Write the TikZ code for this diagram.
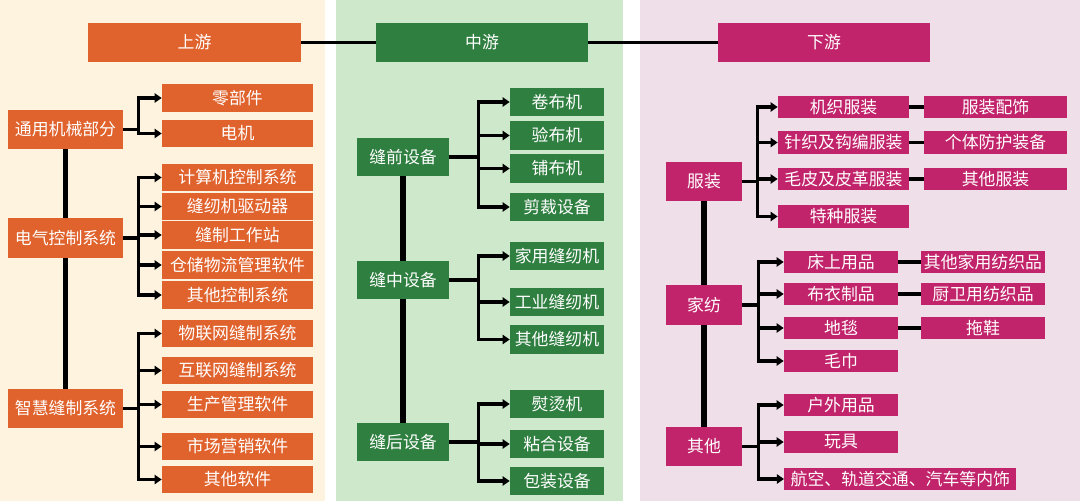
\documentclass[tikz,border=0pt]{standalone}
\usepackage{fontspec}
\setmainfont{Noto Sans CJK SC}
\usetikzlibrary{arrows.meta}

\begin{document}
\begin{tikzpicture}[
  x=0.025cm, y=-0.025cm,
  >={Triangle[length=5pt,width=6.5pt]},
  box/.style={fill=#1,text=white,inner sep=0pt,font=\fontsize{12}{14}\selectfont},
  hdr/.style={box=#1,minimum width=5.3cm,minimum height=0.975cm},
  lpar/.style={box=upc,minimum width=2.875cm,minimum height=0.975cm},
  lkid/.style={box=upc,minimum width=3.775cm,minimum height=0.675cm},
  mpar/.style={box=midc,minimum width=2.3cm,minimum height=0.95cm},
  mkid/.style={box=midc,minimum width=2.35cm,minimum height=0.7cm},
  rpar/.style={box=downc,minimum width=1.9cm,minimum height=0.975cm},
  rkid/.style={box=downc,minimum width=#1,minimum height=0.56cm},
  trunk/.style={line width=4pt},
  brk/.style={->,line width=2.2pt},
  tie/.style={line width=2.2pt}]

  \definecolor{upc}{RGB}{224,98,44}
  \definecolor{midc}{RGB}{47,127,64}
  \definecolor{downc}{RGB}{193,36,107}
  \definecolor{upbg}{RGB}{253,243,222}
  \definecolor{midbg}{RGB}{205,232,203}
  \definecolor{downbg}{RGB}{238,223,233}

  \useasboundingbox (0,0) rectangle (1080,504);

  % ================= panels =================
  \fill[upbg] (0,0) rectangle (325,501);
  \fill[midbg] (336,0) rectangle (623,501);
  \fill[downbg] (640,0) rectangle (1080,501);

  % ================= headers =================
  \node[hdr=upc] (up) at (194.5,42.5) {上游};
  \node[hdr=midc] (mid) at (482,42.5) {中游};
  \node[hdr=downc] (down) at (824,42.5) {下游};
  \draw[tie] (up.east) -- (mid.west);
  \draw[tie] (mid.east) -- (down.west);

  % ================= upstream (left) =================
  \node[lpar] (tyjx) at (65.5,129.5) {通用机械部分};
  \node[lpar] (dqkz) at (65.5,238) {电气控制系统};
  \node[lpar] (zhfz) at (65.5,408.5) {智慧缝制系统};

  \node[lkid] (ljbj) at (237.5,98) {零部件};
  \node[lkid] (dj) at (237.5,133.5) {电机};
  \node[lkid] (jsj) at (237.5,177.5) {计算机控制系统};
  \node[lkid] (qdq) at (237.5,206.5) {缝纫机驱动器};
  \node[lkid] (gzz) at (237.5,235) {缝制工作站};
  \node[lkid] (ccwl) at (237.5,265) {仓储物流管理软件};
  \node[lkid] (qtkz) at (237.5,295) {其他控制系统};
  \node[lkid] (wlw) at (237.5,333.5) {物联网缝制系统};
  \node[lkid] (hlw) at (237.5,370.5) {互联网缝制系统};
  \node[lkid] (scgl) at (237.5,404.5) {生产管理软件};
  \node[lkid] (scyx) at (237.5,446.5) {市场营销软件};
  \node[lkid] (qtrj) at (237.5,479.5) {其他软件};

  \draw[trunk] (tyjx.south) -- (dqkz.north);
  \draw[trunk] (dqkz.south) -- (zhfz.north);
  \foreach \c in {ljbj,dj}
    \draw[brk] (tyjx.east) -- ++(15,0) |- (\c.west);
  \foreach \c in {jsj,qdq,gzz,ccwl,qtkz}
    \draw[brk] (dqkz.east) -- ++(15,0) |- (\c.west);
  \foreach \c in {wlw,hlw,scgl,scyx,qtrj}
    \draw[brk] (zhfz.east) -- ++(15,0) |- (\c.west);

  % ================= midstream (centre) =================
  \node[mpar] (fq) at (403,157) {缝前设备};
  \node[mpar] (fz) at (403,280) {缝中设备};
  \node[mpar] (fh) at (403,442) {缝后设备};

  \node[mkid] (jbj) at (557,102) {卷布机};
  \node[mkid] (ybj) at (557,135.5) {验布机};
  \node[mkid] (pbj) at (557,168.5) {铺布机};
  \node[mkid] (cc) at (557,207) {剪裁设备};
  \node[mkid] (jyf) at (557,256) {家用缝纫机};
  \node[mkid] (gyf) at (557,302) {工业缝纫机};
  \node[mkid] (qtf) at (557,339.5) {其他缝纫机};
  \node[mkid] (ytj) at (557,404) {熨烫机};
  \node[mkid] (nhsb) at (557,444) {粘合设备};
  \node[mkid] (bzsb) at (557,481) {包装设备};

  \draw[trunk] (fq.south) -- (fz.north);
  \draw[trunk] (fz.south) -- (fh.north);
  \foreach \c in {jbj,ybj,pbj,cc}
    \draw[brk] (fq.east) -- ++(29,0) |- (\c.west);
  \foreach \c in {jyf,gyf,qtf}
    \draw[brk] (fz.east) -- ++(29,0) |- (\c.west);
  \foreach \c in {ytj,nhsb,bzsb}
    \draw[brk] (fh.east) -- ++(29,0) |- (\c.west);

  % ================= downstream (right) =================
  \node[rpar] (fzh) at (704,181.5) {服装};
  \node[rpar] (jf) at (704,305) {家纺};
  \node[rpar] (qt) at (704,446.5) {其他};

  \node[rkid=3.275cm] (jzfz) at (843.5,107) {机织服装};
  \node[rkid=3.275cm] (zzfz) at (843.5,142.5) {针织及钩编服装};
  \node[rkid=3.275cm] (mpfz) at (843.5,179) {毛皮及皮革服装};
  \node[rkid=3.275cm] (tzfz) at (843.5,216.5) {特种服装};
  \node[rkid=3.575cm] (fzps) at (995.5,107) {服装配饰};
  \node[rkid=3.575cm] (gtfh) at (995.5,142.5) {个体防护装备};
  \node[rkid=3.575cm] (qtfz) at (995.5,179) {其他服装};

  \node[rkid=2.85cm] (csyp) at (841,262) {床上用品};
  \node[rkid=2.85cm] (byzp) at (841,294) {布衣制品};
  \node[rkid=2.85cm] (dt) at (841,328) {地毯};
  \node[rkid=2.85cm] (mj) at (841,361) {毛巾};
  \node[rkid=3.1cm] (qtjf) at (983,262) {其他家用纺织品};
  \node[rkid=3.1cm] (cwfz) at (983,294) {厨卫用纺织品};
  \node[rkid=3.1cm] (tx) at (983,328) {拖鞋};

  \node[rkid=2.85cm] (hwyp) at (841,405) {户外用品};
  \node[rkid=2.85cm] (wj) at (841,442) {玩具};
  \node[rkid=5.8cm,anchor=west] (hkns) at (784,479) {航空、轨道交通、汽车等内饰};

  \draw[trunk] (fzh.south) -- (jf.north);
  \draw[trunk] (jf.south) -- (qt.north);
  \foreach \c in {jzfz,zzfz,mpfz,tzfz}
    \draw[brk] (fzh.east) -- ++(15,0) |- (\c.west);
  \foreach \c in {csyp,byzp,dt,mj}
    \draw[brk] (jf.east) -- ++(16,0) |- (\c.west);
  \foreach \c in {hwyp,wj,hkns}
    \draw[brk] (qt.east) -- ++(16,0) |- (\c.west);

  \draw[tie] (jzfz.east) -- (fzps.west);
  \draw[tie] (zzfz.east) -- (gtfh.west);
  \draw[tie] (mpfz.east) -- (qtfz.west);
  \draw[tie] (csyp.east) -- (qtjf.west);
  \draw[tie] (byzp.east) -- (cwfz.west);
  \draw[tie] (dt.east) -- (tx.west);
\end{tikzpicture}
\end{document}
